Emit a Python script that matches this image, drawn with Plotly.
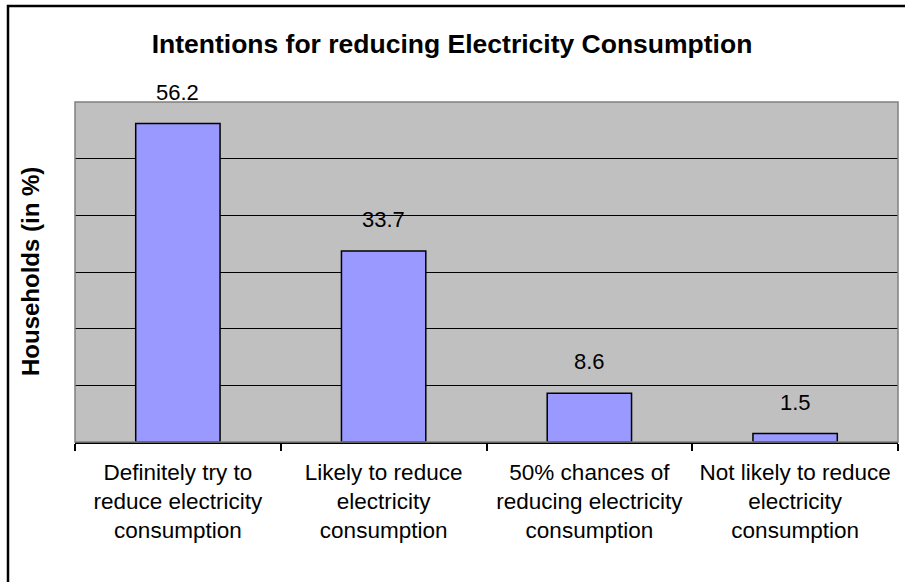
import plotly.graph_objects as go

categories = [
    "Definitely try to<br>reduce electricity<br>consumption",
    "Likely to reduce<br>electricity<br>consumption",
    "50% chances of<br>reducing electricity<br>consumption",
    "Not likely to reduce<br>electricity<br>consumption",
]
households_pct = [56.2, 33.7, 8.6, 1.5]
y_ticks = [0, 10, 20, 30, 40, 50, 60]

FONT = "Liberation Sans, Arial, sans-serif"

W, H = 905, 582
ML, MR, MT, MB = 75, 7, 102, 140
plot_w = W - ML - MR
plot_h = H - MT - MB

fig = go.Figure()
fig.add_trace(go.Bar(
    x=categories,
    y=households_pct,
    width=0.41,
    marker=dict(color="#9999FF", line=dict(color="black", width=1.5)),
    hoverinfo="x+y",
))

# value labels above each bar
for cat, val in zip(categories, households_pct):
    fig.add_annotation(
        x=cat, y=val, text=f"{val:.1f}", showarrow=False,
        yanchor="bottom", yshift=17,
        font=dict(family=FONT, size=22, color="black"),
    )

# y-axis title
fig.add_annotation(
    xref="paper", yref="paper",
    x=(30 - ML) / plot_w, y=0.5,
    text="<b>Households (in %)</b>", textangle=-90, showarrow=False,
    xanchor="center", yanchor="middle",
    font=dict(family=FONT, size=24, color="black"),
)

# grey plot-area border
fig.add_shape(type="rect", xref="paper", yref="paper",
              x0=0, x1=1, y0=0, y1=1,
              line=dict(color="#808080", width=1.5), layer="above")
# outer chart frame
fig.add_shape(type="rect", xref="paper", yref="paper",
              x0=(8 - ML) / plot_w, x1=1.2,
              y0=-0.6, y1=(H - MB - 6) / plot_h,
              line=dict(color="black", width=2.5), layer="above")

fig.update_layout(
    width=W, height=H,
    margin=dict(l=ML, r=MR, t=MT, b=MB),
    paper_bgcolor="white",
    plot_bgcolor="#C0C0C0",
    showlegend=False,
    bargap=0.59,
    title=dict(
        text="<b>Intentions for reducing Electricity Consumption</b>",
        x=452 / W, xanchor="center", xref="container",
        y=1 - 44 / H, yanchor="middle", yref="container",
        font=dict(family=FONT, size=26.5, color="black"),
    ),
    font=dict(family=FONT, color="black"),
)

fig.update_xaxes(
    type="category",
    tickson="boundaries",
    ticks="outside", ticklen=7, tickcolor="black", tickwidth=1.5,
    ticklabelstandoff=9,
    showline=True, linecolor="black", linewidth=1.5,
    showgrid=False,
    tickfont=dict(family=FONT, size=22.5, color="black"),
)
fig.update_yaxes(
    range=[0, 60],
    tickvals=y_ticks,
    showticklabels=False,
    showgrid=True, gridcolor="black", gridwidth=1,
    zeroline=False,
    showline=False,
)

fig.write_html("out.html")
